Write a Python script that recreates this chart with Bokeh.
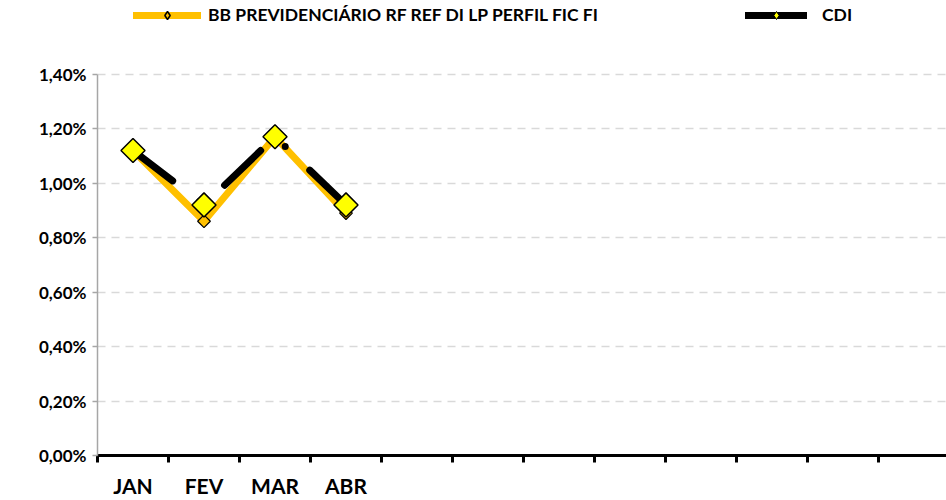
import math
from bokeh.plotting import figure
from bokeh.models import (ColumnDataSource, Range1d, FixedTicker, Legend, LegendItem)
from bokeh.embed import file_html
from bokeh.resources import INLINE

# ---- data ----
months = ["JAN", "FEV", "MAR", "ABR"]
bb_values = [1.12, 0.86, 1.17, 0.89]
cdi_values = [1.12, 0.92, 1.17, 0.92]
bb_name = "BB PREVIDENCIÁRIO RF REF DI LP PERFIL FIC FI"
cdi_name = "CDI"
y_ticks = [0.0, 0.2, 0.4, 0.6, 0.8, 1.0, 1.2, 1.4]
y_tick_labels = ["0,00%", "0,20%", "0,40%", "0,60%", "0,80%", "1,00%", "1,20%", "1,40%"]
n_categories = 12

FONT = "Lato"
ORANGE = "#FFC000"
YELLOW = "#FFFF00"

x_pos = [i + 0.5 for i in range(len(months))]
src = ColumnDataSource(dict(x=x_pos, bb=bb_values, cdi=cdi_values))

FRAME_BOTTOM = 457       # px from top of the canvas
PLOT_TOP = 74            # px where the 1,40% line sits
y_max = y_ticks[-1]
y_end = y_max * FRAME_BOTTOM / (FRAME_BOTTOM - PLOT_TOP)

p = figure(width=946, height=500, output_backend="svg", toolbar_location=None,
           x_range=Range1d(0, 849 / 71), y_range=Range1d(0, y_end),
           min_border_left=97, min_border_right=0, min_border_top=0,
           min_border_bottom=500 - FRAME_BOTTOM)
p.outline_line_color = None
p.background_fill_color = "white"
p.border_fill_color = "white"

# grid
p.xgrid.grid_line_color = None
p.ygrid.grid_line_color = "#D9D9D9"
p.ygrid.grid_line_width = 1.5
p.ygrid.grid_line_dash = "8 6"
p.ygrid.ticker = FixedTicker(ticks=y_ticks)

# y axis
p.yaxis.ticker = FixedTicker(ticks=y_ticks)
p.yaxis.bounds = (0, y_max)
p.yaxis.major_label_overrides = {t: l for t, l in zip(y_ticks, y_tick_labels)}
p.yaxis.axis_line_color = "#A6A6A6"
p.yaxis.axis_line_width = 1.5
p.yaxis.major_tick_line_color = "#A6A6A6"
p.yaxis.major_tick_line_width = 1.5
p.yaxis.major_tick_out = 5
p.yaxis.major_tick_in = 0
p.yaxis.minor_tick_line_color = None
p.yaxis.major_label_standoff = 6
p.yaxis.major_label_text_font = FONT
p.yaxis.major_label_text_font_style = "bold"
p.yaxis.major_label_text_font_size = "17px"
p.yaxis.major_label_text_color = "black"

# x axis: labels at category centres, tick marks at category boundaries
p.xaxis.ticker = FixedTicker(ticks=x_pos, minor_ticks=list(range(n_categories + 1)))
p.xaxis.major_label_overrides = {x: m for x, m in zip(x_pos, months)}
p.xaxis.axis_line_color = "black"
p.xaxis.axis_line_width = 3
p.xaxis.major_tick_line_color = None
p.xaxis.major_tick_out = 0
p.xaxis.major_tick_in = 0
p.xaxis.minor_tick_line_color = "black"
p.xaxis.minor_tick_line_width = 3
p.xaxis.minor_tick_out = 7
p.xaxis.minor_tick_in = 0
p.xaxis.major_label_standoff = 10
p.xaxis.major_label_text_font = FONT
p.xaxis.major_label_text_font_style = "bold"
p.xaxis.major_label_text_font_size = "21px"
p.xaxis.major_label_text_color = "black"

# series
p.line("x", "bb", source=src, line_color=ORANGE, line_width=7,
       line_cap="round", line_join="round")
p.scatter("x", "bb", source=src, marker="square", angle=math.pi / 4, size=9,
          fill_color=ORANGE, line_color="black", line_width=1.2)
p.line("x", "cdi", source=src, line_color="black", line_width=7,
       line_cap="round", line_join="round", line_dash="50 34 0 34")
p.scatter("x", "cdi", source=src, marker="square", angle=math.pi / 4, size=17,
          fill_color=YELLOW, line_color="black", line_width=1.5)

# legend proxies (a single NaN point: nothing drawn in the plot)
nan = float("nan")
proxy = ColumnDataSource(dict(x=[nan], y=[nan]))
lg_bb_line = p.line("x", "y", source=proxy, line_color=ORANGE, line_width=7, line_cap="round")
lg_bb_mark = p.scatter("x", "y", source=proxy, marker="diamond", size=15,
                       fill_color=ORANGE, line_color="black", line_width=1.5)
lg_cdi_line = p.line("x", "y", source=proxy, line_color="black", line_width=7, line_cap="round")
lg_cdi_mark = p.scatter("x", "y", source=proxy, marker="diamond", size=11,
                        fill_color=YELLOW, line_color="black", line_width=1)


def make_legend(label, renderers, loc, gw, standoff):
    lg = Legend(items=[LegendItem(label=label, renderers=renderers)], location=loc,
                orientation="horizontal", glyph_width=gw, glyph_height=20,
                label_height=20, label_standoff=standoff, padding=0, margin=0,
                border_line_color=None, background_fill_alpha=0,
                label_text_font=FONT, label_text_font_style="bold",
                label_text_font_size="17.5px", label_text_color="black")
    p.add_layout(lg, "center")
    return lg


legend_bottom_y = FRAME_BOTTOM - 27
make_legend(bb_name, [lg_bb_line, lg_bb_mark], (36, legend_bottom_y), 68, 7)
make_legend(cdi_name, [lg_cdi_line, lg_cdi_mark], (648, legend_bottom_y), 62, 15)

open("out.html", "w").write(file_html(p, INLINE))
